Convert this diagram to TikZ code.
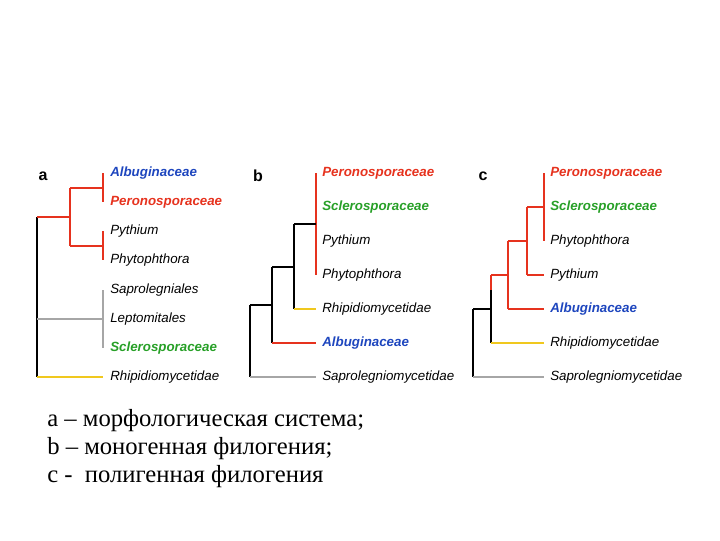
\documentclass[tikz,border=0pt]{standalone}
\usepackage{fontspec}
\setmainfont{Liberation Serif}
\newfontfamily\lab{Liberation Sans}
\begin{document}
\begin{tikzpicture}[x=0.75pt,y=-0.75pt,
 lbl/.style={anchor=west,font=\lab\itshape\fontsize{10}{12}\selectfont,inner sep=0pt},
 bl/.style={lbl,text={rgb,255:red,30;green,70;blue,190},font=\lab\bfseries\itshape\fontsize{10}{12}\selectfont},
 rd/.style={lbl,text={rgb,255:red,230;green,50;blue,30},font=\lab\bfseries\itshape\fontsize{10}{12}\selectfont},
 gr/.style={lbl,text={rgb,255:red,40;green,160;blue,40},font=\lab\bfseries\itshape\fontsize{10}{12}\selectfont},
 letter/.style={font=\lab\bfseries\fontsize{12}{14}\selectfont},
 R/.style={draw={rgb,255:red,230;green,50;blue,30},line width=2pt},
 K/.style={draw=black,line width=2pt},
 Y/.style={draw={rgb,255:red,240;green,200;blue,30},line width=1.5pt},
 G/.style={draw=gray!70,line width=1.5pt}]
\useasboundingbox (0,0) rectangle (720,540);
% panel a
\node[letter] (la) at (43,176) {a};
\node[bl] (a1) at (110,173) {Albuginaceae};
\node[rd] (a2) at (110,202) {Peronosporaceae};
\node[lbl] (a3) at (110,231) {Pythium};
\node[lbl] (a4) at (110,260) {Phytophthora};
\node[lbl] (a5) at (110,290) {Saprolegniales};
\node[lbl] (a6) at (110,319) {Leptomitales};
\node[gr] (a7) at (110,348) {Sclerosporaceae};
\node[lbl] (a8) at (110,377) {Rhipidiomycetidae};
\draw[K] (37,217) -- (37,377);
\draw[R] (37,217) -- (70,217);
\draw[R] (70,188) -- (70,246);
\draw[R] (70,188) -- (103,188) (70,246) -- (103,246);
\draw[R] (103,173) -- (103,202) (103,231) -- (103,260);
\draw[G] (37,319) -- (103,319) (103,290) -- (103,348);
\draw[Y] (37,377) -- (103,377);
% panel b
\node[letter] (lb) at (258,176) {b};
\node[rd] (b1) at (322,173) {Peronosporaceae};
\node[gr] (b2) at (322,207) {Sclerosporaceae};
\node[lbl] (b3) at (322,241) {Pythium};
\node[lbl] (b4) at (322,275) {Phytophthora};
\node[lbl] (b5) at (322,309) {Rhipidiomycetidae};
\node[bl] (b6) at (322,343) {Albuginaceae};
\node[lbl] (b7) at (322,377) {Saprolegniomycetidae};
\draw[R,line width=1.4pt] (316,173) -- (316,275);
\draw[K] (294,224) -- (316,224);
\draw[K] (294,224) -- (294,309);
\draw[Y] (294,309) -- (316,309);
\draw[K] (272,267) -- (294,267) (272,267) -- (272,343);
\draw[R,line width=1.4pt] (272,343) -- (316,343);
\draw[K] (250,305) -- (272,305) (250,305) -- (250,377);
\draw[G] (250,377) -- (316,377);
% panel c
\node[letter] (lc) at (483,176) {c};
\node[rd] (c1) at (550,173) {Peronosporaceae};
\node[gr] (c2) at (550,207) {Sclerosporaceae};
\node[lbl] (c3) at (550,241) {Phytophthora};
\node[lbl] (c4) at (550,275) {Pythium};
\node[bl] (c5) at (550,309) {Albuginaceae};
\node[lbl] (c6) at (550,343) {Rhipidiomycetidae};
\node[lbl] (c7) at (550,377) {Saprolegniomycetidae};
\draw[R] (544,173) -- (544,241);
\draw[R,line width=1.5pt] (527,207) -- (544,207) (527,207) -- (527,275) (527,275) -- (544,275);
\draw[R,line width=1.5pt] (508,241) -- (527,241) (508,241) -- (508,309) (508,309) -- (544,309);
\draw[R,line width=1.5pt] (491,275) -- (508,275) (491,275) -- (491,290);
\draw[K,line width=1.5pt] (491,290) -- (491,343);
\draw[Y] (491,343) -- (544,343);
\draw[K,line width=1.4pt] (473,309) -- (491,309) (473,309) -- (473,377);
\draw[G] (473,377) -- (544,377);
% caption
\node[anchor=west,font=\fontsize{18.5}{22}\selectfont,inner sep=0pt] (t1) at (47,421) {а – морфологическая система;};
\node[anchor=west,font=\fontsize{18.5}{22}\selectfont,inner sep=0pt] (t2) at (47,449) {b – моногенная филогения;};
\node[anchor=west,font=\fontsize{18.5}{22}\selectfont,inner sep=0pt] (t3) at (47,477) {c -\ \ полигенная филогения};
\end{tikzpicture}
\end{document}
